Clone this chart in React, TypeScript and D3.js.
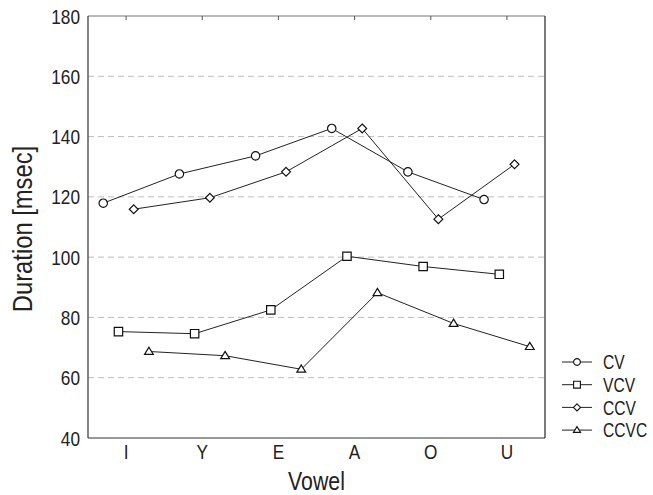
import React from 'react';
import * as d3 from 'd3';

// chart data
const vowels = ['I', 'Y', 'E', 'A', 'O', 'U'];
const seriesNames = ['CV', 'VCV', 'CCV', 'CCVC'];
const cvValues = [117.9, 127.6, 133.6, 142.7, 128.3, 119.1];
const vcvValues = [75.3, 74.6, 82.5, 100.3, 96.9, 94.3];
const ccvValues = [115.9, 119.7, 128.3, 142.7, 112.6, 130.8];
const ccvcValues = [68.7, 67.3, 62.8, 88.2, 78.0, 70.3];
const yTicks = [40, 60, 80, 100, 120, 140, 160, 180];

// no narrow font installed, so squeeze Liberation Sans horizontally
const FONT = "'Liberation Sans', Arial, sans-serif";
const W = 653;
const H = 495;
const margin = { top: 16, right: 108, bottom: 57, left: 88 };

// marker shapes, centered at 0,0
const markerPath = (name: string, s: number) => {
  if (name === 'CV') {
    return `M${s},0A${s},${s} 0 1,1 ${-s},0A${s},${s} 0 1,1 ${s},0Z`;
  }
  if (name === 'VCV') {
    return `M${-s},${-s}H${s}V${s}H${-s}Z`;
  }
  if (name === 'CCV') {
    const d = s * 1.05;
    return `M0,${-d}L${d},0L0,${d}L${-d},0Z`;
  }
  const h = s * 1.7;
  return `M0,${-h * 0.6}L${s * 1.05},${h * 0.4}L${-s * 1.05},${h * 0.4}Z`;
};

const Label = ({ x, y, size, anchor = 'start', sx = 0.82, rotate = 0, dy, children }: any) => (
  <text transform={`translate(${x},${y}) rotate(${rotate}) scale(${sx},1)`} textAnchor={anchor} dy={dy}
    fontFamily={FONT} fontSize={size} fill="#222">{children}</text>
);

const App = () => {
  const series = [
    { name: 'CV', values: cvValues },
    { name: 'VCV', values: vcvValues },
    { name: 'CCV', values: ccvValues },
    { name: 'CCVC', values: ccvcValues },
  ];

  const right = W - margin.right;
  const bottom = H - margin.bottom;

  const xScale = d3.scaleBand().domain(vowels).range([margin.left, right]);
  const bw = xScale.bandwidth();
  // position of each series inside a vowel slot
  const offset = d3.scalePoint().domain(seriesNames).range([-bw * 0.4, bw * 0.4]).padding(0.5);
  const yScale = d3.scaleLinear().domain([40, 180]).range([bottom, margin.top]);

  const cx = (name: string, i: number) => (xScale(vowels[i]) as number) + bw / 2 + (offset(name) as number);

  return (
    <svg width={W} height={H} style={{ position: 'absolute', left: 0, top: 0, background: '#fff' }}>
      {/* grid */}
      {yTicks.filter(t => t > 40 && t < 180).map(t => (
        <line key={'g' + t} x1={margin.left} x2={right} y1={yScale(t)} y2={yScale(t)}
          stroke="#bdbdbd" strokeWidth={1} strokeDasharray="6,4" />
      ))}

      {/* frame */}
      <line x1={margin.left} x2={right} y1={margin.top} y2={margin.top} stroke="#777" strokeWidth={1} />
      <line x1={margin.left} x2={margin.left} y1={margin.top} y2={bottom} stroke="#333" strokeWidth={1.2} />
      <line x1={margin.left} x2={right} y1={bottom} y2={bottom} stroke="#333" strokeWidth={1.2} />
      <line x1={right} x2={right} y1={margin.top} y2={bottom} stroke="#222" strokeWidth={1.2} />

      {/* top ticks */}
      {vowels.map(v => (
        <line key={'t' + v} x1={(xScale(v) as number) + bw / 2} x2={(xScale(v) as number) + bw / 2}
          y1={margin.top} y2={margin.top + 4} stroke="#555" strokeWidth={1} />
      ))}

      {/* y tick labels */}
      {yTicks.map(t => (
        <Label key={'y' + t} x={margin.left - 8} y={yScale(t)} dy="0.36em" anchor="end" size={21}>{t}</Label>
      ))}

      {/* x tick labels */}
      {vowels.map(v => (
        <Label key={'x' + v} x={(xScale(v) as number) + bw / 2} y={bottom + 21} anchor="middle" size={21}>{v}</Label>
      ))}

      {/* axis titles */}
      <Label x={(margin.left + right) / 2} y={490} anchor="middle" size={26}>Vowel</Label>
      <Label x={32} y={229} anchor="middle" size={27} sx={0.88} rotate={-90}>Duration [msec]</Label>

      {/* series */}
      {series.map(s => {
        const path = d3.line<number>()
          .x((d, i) => cx(s.name, i))
          .y(d => yScale(d))(s.values);
        return (
          <g key={s.name}>
            <path d={path || ''} fill="none" stroke="#222" strokeWidth={1} />
            {s.values.map((v, i) => (
              <path key={i} d={markerPath(s.name, 4.2)} transform={`translate(${cx(s.name, i)},${yScale(v)})`}
                fill="#fff" stroke="#111" strokeWidth={1.2} />
            ))}
          </g>
        );
      })}

      {/* legend */}
      {seriesNames.map((name, i) => {
        const ly = 362 + i * 22.7;
        return (
          <g key={'l' + name}>
            <line x1={562} x2={592} y1={ly} y2={ly} stroke="#222" strokeWidth={1} />
            <path d={markerPath(name, 3.4)} transform={`translate(577,${ly})`} fill="#fff" stroke="#111" strokeWidth={1.1} />
            <Label x={603} y={ly} dy="0.36em" size={20} sx={0.78}>{name}</Label>
          </g>
        );
      })}
    </svg>
  );
};

export default App;
